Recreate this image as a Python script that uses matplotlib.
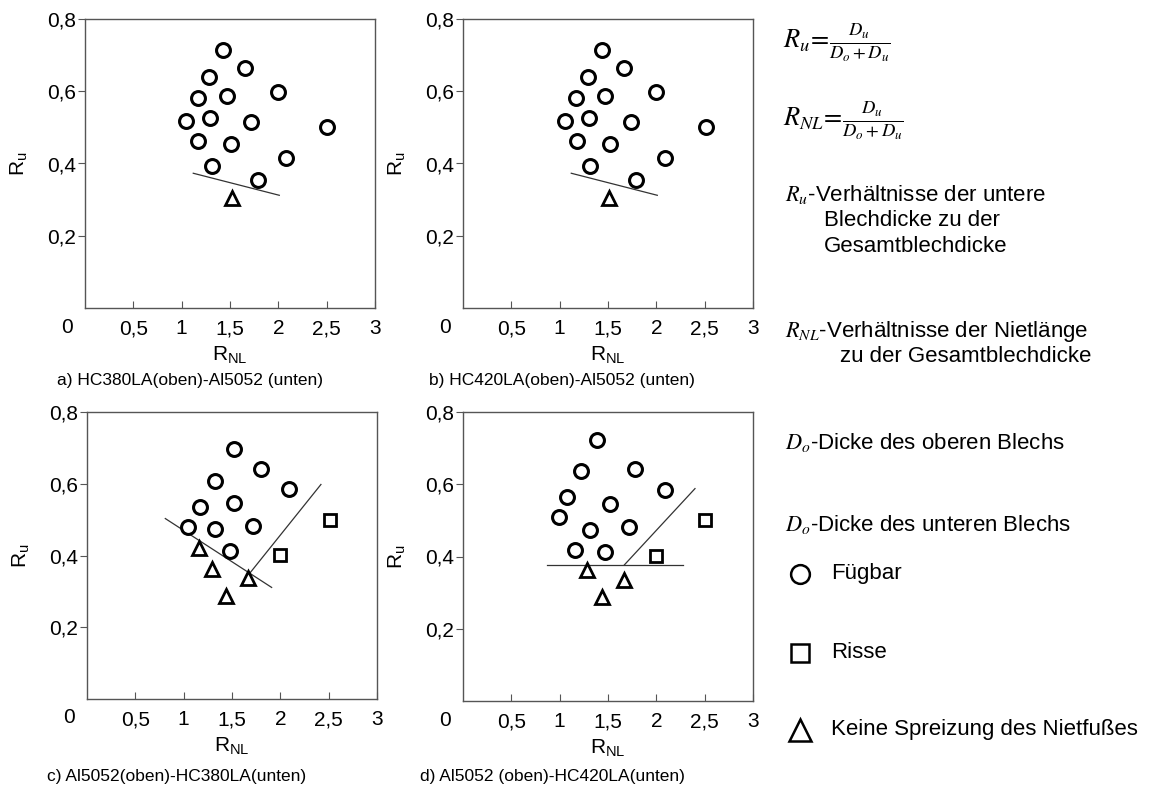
import matplotlib
matplotlib.use("Agg")
import matplotlib.pyplot as plt
from matplotlib.lines import Line2D

plt.rcParams['font.family'] = ['Liberation Sans', 'DejaVu Sans']
plt.rcParams['mathtext.fontset'] = 'stix'

# a) HC380LA(oben)-Al5052 (unten)
a_fueg_x = [1.43, 1.66, 1.28, 2.00, 1.17, 1.47, 1.04, 1.29, 1.72, 2.50, 1.17, 1.51, 1.31, 2.08, 1.79]
a_fueg_y = [0.714, 0.665, 0.639, 0.599, 0.581, 0.588, 0.519, 0.525, 0.516, 0.500, 0.463, 0.454, 0.394, 0.415, 0.355]
a_keine_x = [1.52]
a_keine_y = [0.304]
a_grenze1_x = [1.12, 2.01]
a_grenze1_y = [0.373, 0.312]

# b) HC420LA(oben)-Al5052 (unten)
b_fueg_x = [1.44, 1.67, 1.29, 2.00, 1.17, 1.47, 1.05, 1.30, 1.74, 2.51, 1.18, 1.52, 1.31, 2.09, 1.79]
b_fueg_y = [0.714, 0.665, 0.639, 0.599, 0.580, 0.588, 0.519, 0.525, 0.516, 0.500, 0.463, 0.454, 0.394, 0.415, 0.355]
b_keine_x = [1.51]
b_keine_y = [0.304]
b_grenze1_x = [1.12, 2.01]
b_grenze1_y = [0.373, 0.312]

# c) Al5052(oben)-HC380LA(unten)
c_fueg_x = [1.52, 1.80, 1.32, 2.09, 1.17, 1.52, 1.04, 1.32, 1.72, 1.48]
c_fueg_y = [0.698, 0.642, 0.607, 0.584, 0.536, 0.547, 0.480, 0.474, 0.483, 0.412]
c_keine_x = [1.16, 1.29, 1.44, 1.67]
c_keine_y = [0.420, 0.361, 0.287, 0.336]
c_risse_x = [2.00, 2.51]
c_risse_y = [0.401, 0.500]
c_grenze1_x = [0.81, 1.91]
c_grenze1_y = [0.503, 0.311]
c_grenze2_x = [1.67, 2.42]
c_grenze2_y = [0.346, 0.598]

# d) Al5052 (oben)-HC420LA(unten)
d_fueg_x = [1.39, 1.22, 1.78, 2.09, 1.08, 1.52, 0.99, 1.31, 1.72, 1.16, 1.47]
d_fueg_y = [0.723, 0.636, 0.643, 0.583, 0.566, 0.546, 0.509, 0.472, 0.483, 0.419, 0.412]
d_keine_x = [1.28, 1.44, 1.67]
d_keine_y = [0.362, 0.288, 0.336]
d_risse_x = [2.00, 2.50]
d_risse_y = [0.401, 0.500]
d_grenze1_x = [0.87, 2.28]
d_grenze1_y = [0.377, 0.377]
d_grenze2_x = [1.67, 2.40]
d_grenze2_y = [0.377, 0.588]

x_ticks = [0.5, 1, 1.5, 2, 2.5, 3]
x_labels = ['0,5', '1', '1,5', '2', '2,5', '3']
y_ticks = [0.2, 0.4, 0.6, 0.8]
y_labels = ['0,2', '0,4', '0,6', '0,8']

W, H = 1155, 792
fig = plt.figure(figsize=(W / 100, H / 100), dpi=100)


def px_axes(left, top, right, bottom):
    return fig.add_axes([left / W, 1 - bottom / H, (right - left) / W, (bottom - top) / H])


def panel(ax, fx, fy, kx, ky, rx, ry, lines, caption, cap_x, cap_y):
    for lx, ly in lines:
        ax.plot(lx, ly, color='#333333', lw=0.9)
    ax.plot(fx, fy, ls='none', marker='o', ms=10, mfc='white', mec='black', mew=2.2)
    if kx:
        ax.plot(kx, ky, ls='none', marker='^', ms=10.5, mfc='white', mec='black', mew=2.0)
    if rx:
        ax.plot(rx, ry, ls='none', marker='s', ms=8, mfc='white', mec='black', mew=2.0)
    ax.set_xlim(0, 3)
    ax.set_ylim(0, 0.8)
    ax.set_xticks(x_ticks)
    ax.set_xticklabels(x_labels)
    ax.set_yticks(y_ticks)
    ax.set_yticklabels(y_labels)
    ax.tick_params(axis='x', direction='in', length=5, width=0.8, color='#555555', pad=8, labelsize=15)
    ax.tick_params(axis='y', direction='out', length=5, width=0.8, color='#555555', pad=1.5, labelsize=15)
    for s in ax.spines.values():
        s.set_color('#555555')
        s.set_linewidth(1.0)
    ax.text(-0.062, -0.066, '0', transform=ax.transAxes, ha='center', va='center', fontsize=15)
    ax.text(0.5, -0.165, r'$\mathregular{R_{NL}}$', transform=ax.transAxes,
            ha='center', va='center', fontsize=15)
    ax.text(-0.225, 0.5, r'$\mathregular{R_u}$', transform=ax.transAxes,
            ha='center', va='center', rotation=90, fontsize=15)
    ax.text(cap_x, cap_y, caption, transform=ax.transAxes, ha='left', va='center', fontsize=12.5)


ax_a = px_axes(85, 19, 375, 308)
ax_b = px_axes(463, 19, 753, 308)
ax_c = px_axes(87, 412, 377, 699)
ax_d = px_axes(463, 412, 753, 701)

panel(ax_a, a_fueg_x, a_fueg_y, a_keine_x, a_keine_y, [], [],
      [(a_grenze1_x, a_grenze1_y)], 'a) HC380LA(oben)-Al5052 (unten)', -0.097, -0.25)
panel(ax_b, b_fueg_x, b_fueg_y, b_keine_x, b_keine_y, [], [],
      [(b_grenze1_x, b_grenze1_y)], 'b) HC420LA(oben)-Al5052 (unten)', -0.117, -0.25)
panel(ax_c, c_fueg_x, c_fueg_y, c_keine_x, c_keine_y, c_risse_x, c_risse_y,
      [(c_grenze1_x, c_grenze1_y), (c_grenze2_x, c_grenze2_y)],
      'c) Al5052(oben)-HC380LA(unten)', -0.138, -0.27)
panel(ax_d, d_fueg_x, d_fueg_y, d_keine_x, d_keine_y, d_risse_x, d_risse_y,
      [(d_grenze1_x, d_grenze1_y), (d_grenze2_x, d_grenze2_y)],
      'd) Al5052 (oben)-HC420LA(unten)', -0.148, -0.26)


def ftext(x, y, s, size=16, **kw):
    fig.text(x / W, 1 - y / H, s, fontsize=size, ha='left', va='center', **kw)


# Erklaerung rechts
ftext(783, 43, r'$R_u\!=\!\frac{D_u}{D_o+D_u}$', size=19)
ftext(783, 121, r'$R_{NL}\!=\!\frac{D_u}{D_o+D_u}$', size=19)
ftext(785, 194, r'$R_u$-Verhältnisse der untere')
ftext(824, 221, 'Blechdicke zu der')
ftext(824, 247, 'Gesamtblechdicke')
ftext(785, 332, r'$R_{NL}$-Verhältnisse der Nietlänge')
ftext(840, 356, 'zu der Gesamtblechdicke')
ftext(785, 442, r'$D_o$-Dicke des oberen Blechs')
ftext(785, 524, r'$D_o$-Dicke des unteren Blechs')

leg_items = [('o', 13.5, 'Fügbar', 574), ('s', 13, 'Risse', 653), ('^', 16, 'Keine Spreizung des Nietfußes', 730)]
for mk, ms, lab, y in leg_items:
    fig.add_artist(Line2D([800 / W], [1 - y / H], transform=fig.transFigure, ls='none',
                          marker=mk, ms=ms, mfc='white', mec='black', mew=1.8))
    ftext(831, y - 1, lab)

fig.savefig('out.png', dpi=100)
